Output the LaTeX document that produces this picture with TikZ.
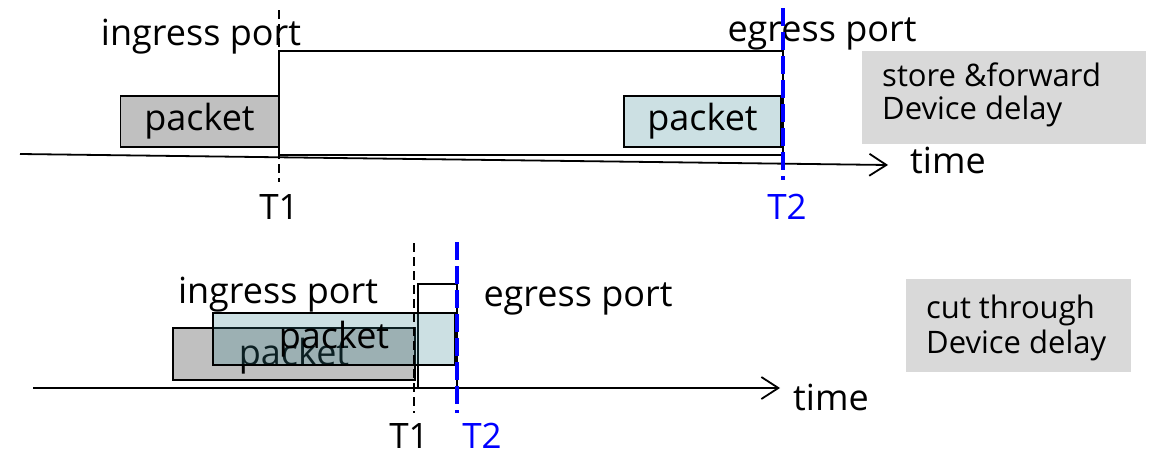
\documentclass[tikz,border=0pt]{standalone}
\usepackage{fontspec}
\setmainfont{Open Sans}
\usetikzlibrary{arrows.meta}
\definecolor{pktgrey}{HTML}{C0C0C0}
\definecolor{pktteal}{RGB}{51,131,143}
\definecolor{notegrey}{HTML}{D9D9D9}
\definecolor{markblue}{RGB}{0,0,255}
\begin{document}
\begin{tikzpicture}[x=1pt,y=-1pt,
  big/.style={font=\fontsize{36}{40}\selectfont, inner sep=0pt},
  word/.style={big, anchor=base},
  tlabel/.style={font=\fontsize{35}{38}\selectfont, inner sep=0pt, anchor=base},
  notebox/.style={fill=notegrey, inner sep=0pt, anchor=north west},
  noteline/.style={font=\fontsize{31}{34}\selectfont, inner sep=0pt, anchor=base west},
  device/.style={draw=black, line width=1.8pt, inner sep=0pt},
  greypkt/.style={big, draw=black, line width=1.8pt, fill=pktgrey},
  tealpkt/.style={big, draw=black, line width=1.8pt, fill=pktteal, fill opacity=0.25, text opacity=1},
  axis/.style={line width=1.8pt, -{Straight Barb[length=17pt,width=22pt,line width=1.8pt]}},
  tone/.style={line width=1.4pt, dash pattern=on 9pt off 5pt},
  ttwo/.style={markblue, line width=4.5pt, dash pattern=on 18pt off 6pt}
]
\useasboundingbox (0,0) rectangle (1158,455);

% ---------------- store & forward ----------------
\node[device, minimum width=504pt, minimum height=104pt] (dev1) at (531,103) {};
\node[greypkt, minimum width=158pt, minimum height=51pt] (pa1) at (199.5,121.5) {packet};
\node[tealpkt, minimum width=157pt, minimum height=51pt] (pb1) at (702.5,121.5) {packet};

\coordinate (ax1s) at (20,154);
\coordinate (ax1e) at (888,165);
\draw[axis] (ax1s) -- (ax1e);
\node[big, anchor=base west] (time1) at (910,173) {time};

\node[word] (in1) at (201,45) {ingress port};
\node[word] (eg1) at (822,41) {egress port};

\coordinate (t1a) at (279,10);
\coordinate (t1b) at (279,182);
\draw[tone] (t1a) -- (t1b);
\node[tlabel] (T1a) at (279,219) {T1};

\coordinate (t2a) at (783,8);
\coordinate (t2b) at (783,180);
\draw[ttwo] (t2a) -- (t2b);
\node[tlabel, text=markblue] (T2a) at (787,219) {T2};

\node[notebox, minimum width=284pt, minimum height=93pt] (note1) at (862,51) {};
\node[noteline] (n1a) at (882,86) {store \&forward};
\node[noteline] (n1b) at (882,119) {Device delay};

% ---------------- cut through ----------------
\node[device, minimum width=39pt, minimum height=104pt] (dev2) at (437.5,336) {};
\node[greypkt, minimum width=242pt, minimum height=52pt] (pa2) at (294,354) {};
\node[big, text=black] (pa2t) at (294,356) {packet};
\node[tealpkt, minimum width=242pt, minimum height=52pt] (pb2) at (334,339) {packet};

\coordinate (ax2s) at (33,388);
\coordinate (ax2e) at (780,388);
\draw[axis] (ax2s) -- (ax2e);
\node[big, anchor=base west] (time2) at (793,410) {time};

\node[word] (in2) at (278,303) {ingress port};
\node[word] (eg2) at (578,306) {egress port};

\coordinate (t1c) at (414,243);
\coordinate (t1d) at (414,413);
\draw[tone] (t1c) -- (t1d);
\node[tlabel] (T1b) at (409,448) {T1};

\coordinate (t2c) at (457,242);
\coordinate (t2d) at (457,413);
\draw[ttwo] (t2c) -- (t2d);
\node[tlabel, text=markblue] (T2b) at (482,448) {T2};

\node[notebox, minimum width=225pt, minimum height=93pt] (note2) at (906,279) {};
\node[noteline] (n2a) at (926,318) {cut through};
\node[noteline] (n2b) at (926,353) {Device delay};
\end{tikzpicture}
\end{document}
